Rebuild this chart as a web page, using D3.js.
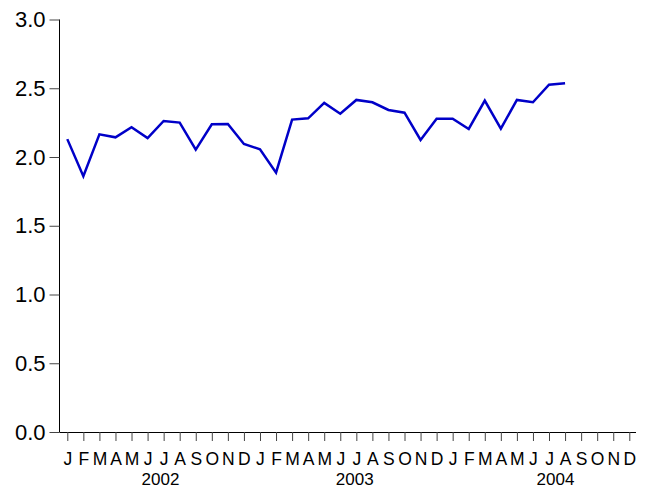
<!DOCTYPE html>
<html>
<head>
<meta charset="utf-8">
<script src="https://cdn.jsdelivr.net/npm/d3@7"></script>
<style>
  body { margin: 0; background: #fff; }
  text { font-family: "Liberation Sans", Arial, sans-serif; fill: #000; }
</style>
</head>
<body>
<div id="chart"></div>
<script>
let monthLetters = ["J","F","M","A","M","J","J","A","S","O","N","D"];
let years = ["2002", "2003", "2004"];
// where each year label sits, in month-index units
let yearLabelPos = [5.8, 17.9, 30.4];
let yTicks = [0, 0.5, 1.0, 1.5, 2.0, 2.5, 3.0];
let values = [2.13, 1.86, 2.165, 2.143, 2.216, 2.138, 2.262, 2.25, 2.053, 2.238, 2.24, 2.095,
              2.056, 1.886, 2.272, 2.281, 2.393, 2.315, 2.415, 2.398, 2.342, 2.322, 2.124, 2.279,
              2.279, 2.204, 2.41, 2.206, 2.415, 2.398, 2.526, 2.536];

let width = 647, height = 491;

let svg = d3.select("#chart")
    .append("svg")
    .attr("width", width)
    .attr("height", height)

let xScale = d3.scaleLinear()
    .domain([0, 35])
    .range([67.3, 629.3]);

let yScale = d3.scaleLinear()
    .domain([0, 3])
    .range([432, 19.5]);

// y axis
let yAxis = d3.axisLeft(yScale)
    .tickValues(yTicks)
    .tickFormat(d3.format(".1f"))
    .tickSize(10)
    .tickPadding(4);

let gy = svg.append("g")
    .attr("transform", "translate(59.5, 0)")
    .call(yAxis);
gy.select(".domain").attr("d", "M0," + yScale(3) + "V" + yScale(0)).attr("stroke", "#000");
gy.selectAll(".tick line").attr("stroke", "#444");
gy.selectAll(".tick text").style("font-size", "22px").attr("fill", "#000");

// x axis
let months = d3.range(36);
let xAxis = d3.axisBottom(xScale)
    .tickValues(months)
    .tickFormat(d => monthLetters[d % 12])
    .tickSize(9)
    .tickPadding(12);

let gx = svg.append("g")
    .attr("transform", "translate(0, " + yScale(0) + ")")
    .call(xAxis);
gx.select(".domain").attr("d", "M59.5,0.5H636").attr("stroke", "#000");
gx.selectAll(".tick line").attr("stroke", "#444");
gx.selectAll(".tick text").style("font-size", "17.5px").attr("fill", "#000");

svg.selectAll(".yearlabel")
    .data(years)
    .enter()
    .append("text")
    .attr("class", "yearlabel")
    .attr("x", (d, i) => xScale(yearLabelPos[i]))
    .attr("y", 485)
    .attr("text-anchor", "middle")
    .style("font-size", "17px")
    .text(d => d);

// the series
let line = d3.line()
    .x((d, i) => xScale(i))
    .y(d => yScale(d));

svg.append("path")
    .datum(values)
    .attr("d", line)
    .attr("fill", "none")
    .attr("stroke", "#0000c8")
    .attr("stroke-width", 2.5)
    .attr("stroke-linejoin", "miter");
</script>
</body>
</html>
